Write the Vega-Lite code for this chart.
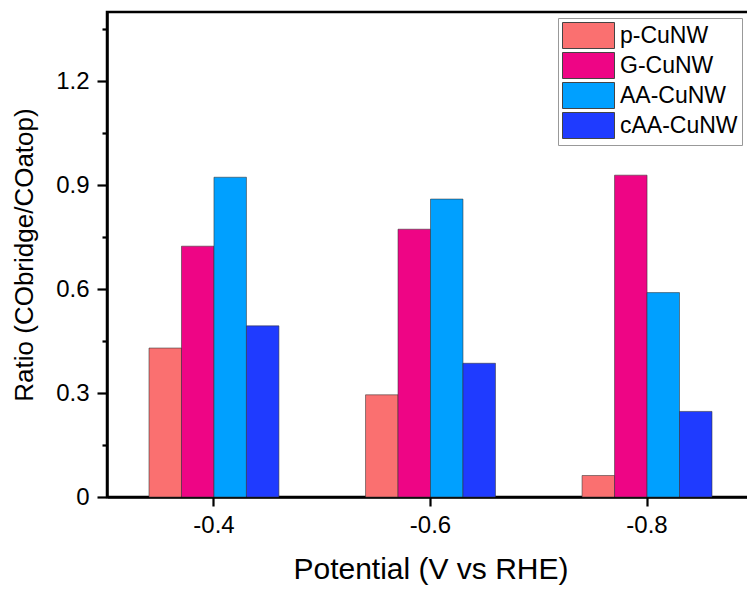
{
  "$schema": "https://vega.github.io/schema/vega-lite/v6.json",
  "autosize": "none",
  "padding": {"left": 107, "top": 12, "right": 0, "bottom": 92},
  "width": 647,
  "height": 485,
  "background": "white",
  "config": {
    "font": "Liberation Sans",
    "view": {"stroke": "black", "strokeWidth": 2.5},
    "axis": {"grid": false, "domainColor": "black", "domainWidth": 2.5, "tickColor": "black", "tickWidth": 2.2, "labelColor": "black", "titleColor": "black", "labelFont": "Liberation Sans", "titleFont": "Liberation Sans", "titleFontWeight": "normal"}
  },
  "data": {
    "values": [
      {"potential": "-0.4", "sample": "p-CuNW", "ratio": 0.43},
      {"potential": "-0.4", "sample": "G-CuNW", "ratio": 0.724},
      {"potential": "-0.4", "sample": "AA-CuNW", "ratio": 0.923},
      {"potential": "-0.4", "sample": "cAA-CuNW", "ratio": 0.494},
      {"potential": "-0.6", "sample": "p-CuNW", "ratio": 0.295},
      {"potential": "-0.6", "sample": "G-CuNW", "ratio": 0.773},
      {"potential": "-0.6", "sample": "AA-CuNW", "ratio": 0.86},
      {"potential": "-0.6", "sample": "cAA-CuNW", "ratio": 0.386},
      {"potential": "-0.8", "sample": "p-CuNW", "ratio": 0.062},
      {"potential": "-0.8", "sample": "G-CuNW", "ratio": 0.929},
      {"potential": "-0.8", "sample": "AA-CuNW", "ratio": 0.59},
      {"potential": "-0.8", "sample": "cAA-CuNW", "ratio": 0.247}
    ]
  },
  "mark": {"type": "bar", "stroke": "#333333", "strokeWidth": 0.8, "strokeOpacity": 0.7},
  "encoding": {
    "x": {
      "field": "potential",
      "type": "nominal",
      "sort": ["-0.4", "-0.6", "-0.8"],
      "scale": {"paddingInner": 0.4, "paddingOuter": 0.194},
      "axis": {"title": "Potential (V vs RHE)", "labelAngle": 0, "labelFontSize": 24, "titleFontSize": 30, "tickSize": 9, "labelPadding": 7, "titlePadding": 17}
    },
    "xOffset": {"field": "sample", "type": "nominal", "sort": ["p-CuNW", "G-CuNW", "AA-CuNW", "cAA-CuNW"], "scale": {"paddingInner": 0, "paddingOuter": 0}},
    "y": {
      "field": "ratio",
      "type": "quantitative",
      "scale": {"domain": [0, 1.4], "nice": false, "zero": true},
      "axis": {
        "title": "Ratio (CObridge/COatop)",
        "values": [0, 0.15, 0.3, 0.45, 0.6, 0.75, 0.9, 1.05, 1.2, 1.35],
        "labelExpr": "abs(datum.value*10 - round(datum.value*10)) < 0.01 && round(datum.value*10) % 3 == 0 ? (datum.value == 0 ? '0' : format(datum.value, '.1f')) : ''",
        "labelFontSize": 24,
        "titleFontSize": 26,
        "tickSize": {"condition": {"test": "abs(datum.value*10 - round(datum.value*10)) < 0.01 && round(datum.value*10) % 3 == 0", "value": 10}, "value": 5},
        "labelPadding": 8,
        "titlePadding": 18
      }
    },
    "color": {
      "field": "sample",
      "type": "nominal",
      "sort": ["p-CuNW", "G-CuNW", "AA-CuNW", "cAA-CuNW"],
      "scale": {"domain": ["p-CuNW", "G-CuNW", "AA-CuNW", "cAA-CuNW"], "range": ["#FA7070", "#EE0585", "#00A0FF", "#1F3BFF"]},
      "legend": {
        "title": null,
        "orient": "none",
        "legendX": 451,
        "legendY": 6,
        "symbolType": "M-2,-1H2V1H-2Z",
        "symbolSize": 676,
        "symbolOffset": 13,
        "symbolStrokeColor": "#444444",
        "symbolStrokeWidth": 1,
        "symbolOpacity": 1,
        "labelFontSize": 23,
        "labelColor": "black",
        "labelOffset": 18,
        "rowPadding": -1,
        "strokeColor": "#999999",
        "padding": 4,
        "fillColor": "white"
      }
    }
  }
}
